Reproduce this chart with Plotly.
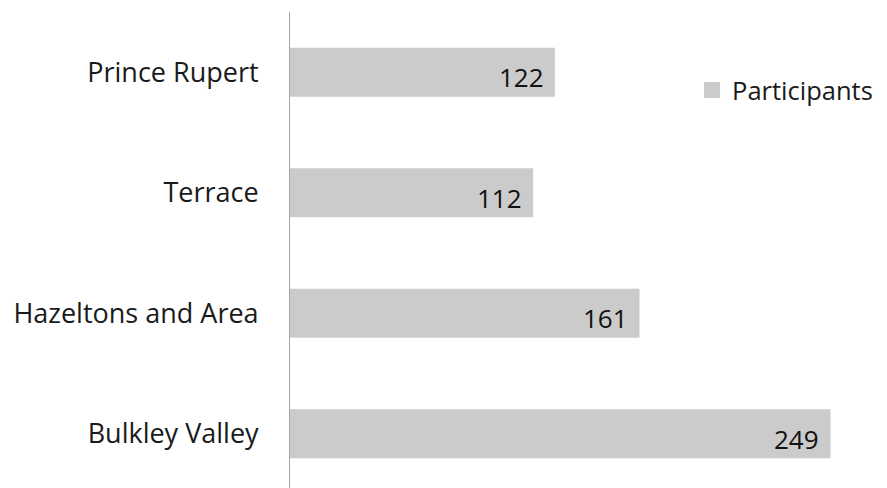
import plotly.graph_objects as go

categories = ["Prince Rupert", "Terrace", "Hazeltons and Area", "Bulkley Valley"]
participants = [122, 112, 161, 249]
series_name = "Participants"

FONT = "Open Sans, sans-serif"
TXT = "#1a1a1a"
BAR = "#cbcbcb"

fig = go.Figure()
fig.add_trace(go.Bar(
    y=categories, x=participants, orientation="h", name=series_name,
    marker=dict(color=BAR, line=dict(width=0)), width=0.405,
    showlegend=False,
))
# legend entry with a larger square swatch
fig.add_trace(go.Scatter(
    x=[None], y=[None], mode="markers", name=series_name,
    marker=dict(symbol="square", size=17, color=BAR), showlegend=True,
))

for c, v in zip(categories, participants):
    fig.add_annotation(x=v, y=c, text=str(v), showarrow=False, xanchor="right",
                       xshift=-9, yshift=-5,
                       font=dict(family=FONT, size=26, color="#111111", weight=500))

fig.update_layout(
    width=879, height=480,
    margin=dict(l=282, r=50, t=4, b=0, autoexpand=False),
    paper_bgcolor="white", plot_bgcolor="white",
    font=dict(family=FONT, size=27, color=TXT),
    xaxis=dict(range=[0, 252], visible=False, showgrid=False, zeroline=False, automargin=False),
    yaxis=dict(categoryorder="array", categoryarray=categories,
               range=[3.45, -0.5], showline=True, linecolor="#a6a6a6", linewidth=1,
               showgrid=False, zeroline=False, ticks="", ticklabelstandoff=25,
               automargin=False,
               tickfont=dict(family=FONT, size=27, color=TXT)),
    legend=dict(x=0.735, y=0.835, xanchor="left", yanchor="middle",
                font=dict(family=FONT, size=25.5, color=TXT), bgcolor="rgba(0,0,0,0)",
                itemwidth=30),
    showlegend=True,
)

fig.write_html("out.html")
